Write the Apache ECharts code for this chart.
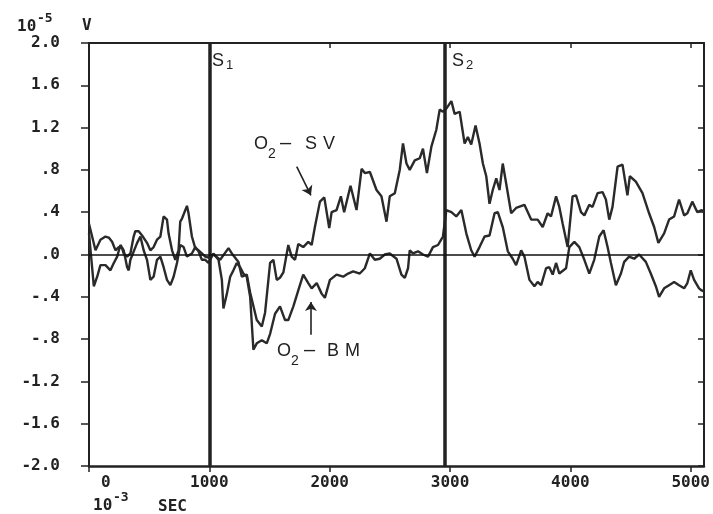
<!DOCTYPE html>
<html>
<head>
<meta charset="utf-8">
<script src="https://cdn.jsdelivr.net/npm/echarts@6/dist/echarts.min.js"></script>
<style>html,body{margin:0;padding:0;background:#fff}#c{width:713px;height:514px}</style>
</head>
<body>
<div id="c"></div>
<script>
// time in 10^-3 s, value in 10^-5 V
const xTicks = [0, 1000, 2000, 3000, 4000, 5000];
const xTickLabels = ['0', '1000', '2000', '3000', '4000', '5000'];
const yTicks = [-2.0, -1.6, -1.2, -0.8, -0.4, 0.0, 0.4, 0.8, 1.2, 1.6, 2.0];
const yTickLabels = ['-2.0', '-1.6', '-1.2', '-.8', '-.4', '.0', '.4', '.8', '1.2', '1.6', '2.0'];
const stimulusTimes = [1000, 2960];

const svTrace = [[0,0.29],[54,0.04],[95,0.14],[137,0.17],[164,0.16],[192,0.12],[220,0.04],[247,0.07],[275,0.06],[288,0.01],[317,-0.02],[344,0.01],[371,0.17],[385,0.22],[413,0.22],[441,0.18],[482,0.11],[510,0.04],[537,0.07],[565,0.14],[593,0.17],[620,0.36],[648,0.33],[661,0.20],[690,0.04],[717,-0.05],[744,0.04],[758,0.31],[773,0.34],[786,0.33],[814,0.46],[827,0.39],[855,0.17],[883,0.06],[910,0.04],[938,0.01],[966,-0.02],
[993,-0.03],[1034,0.00],[1090,-0.05],[1159,0.06],[1187,0.01],[1242,-0.07],[1270,-0.21],[1311,-0.19],[1339,-0.36],[1394,-0.62],[1436,-0.68],[1463,-0.55],[1505,-0.08],[1532,-0.05],[1560,-0.24],[1587,-0.22],[1615,-0.17],[1656,0.09],[1684,-0.02],[1712,-0.05],[1739,0.10],[1780,0.07],[1822,0.12],[1850,0.09],[1877,0.26],[1919,0.50],[1955,0.54],[1996,0.25],[2016,0.40],[2057,0.42],[2093,0.55],[2120,0.40],[2173,0.65],[2223,0.42],[2265,0.81],[2292,0.77],[2334,0.78],[2389,0.61],[2430,0.55],[2472,0.31],[2499,0.55],[2541,0.58],[2582,0.80],[2609,1.05],[2638,0.86],[2665,0.80],[2707,0.89],[2748,0.91],[2775,1.00],[2808,0.77],[2845,1.02],[2886,1.18],[2914,1.37],[2941,1.35],[2969,1.38],[3011,1.45],[3038,1.33],[3080,1.35],[3121,1.05],[3148,1.11],[3176,1.04],[3212,1.22],[3245,1.05],[3273,0.86],[3301,0.74],[3328,0.48],[3355,0.61],[3384,0.72],[3411,0.61],[3438,0.86],[3471,0.64],[3508,0.39],[3549,0.44],[3618,0.47],[3674,0.33],[3728,0.33],[3770,0.26],[3811,0.39],[3839,0.36],[3881,0.55],[3908,0.45],[3936,0.29],[3977,0.07],[4018,0.55],[4047,0.56],[4088,0.40],[4116,0.37],[4157,0.47],[4184,0.45],[4226,0.58],[4267,0.59],[4295,0.52],[4323,0.33],[4350,0.45],[4392,0.83],[4433,0.85],[4474,0.56],[4494,0.74],[4544,0.69],[4599,0.58],[4654,0.39],[4696,0.26],[4731,0.11],[4779,0.20],[4820,0.33],[4862,0.36],[4903,0.52],[4945,0.37],[4972,0.39],[5013,0.50],[5055,0.40],[5091,0.42],[5110,0.40]];

const bmTrace = [[0,0.20],[40,-0.30],[68,-0.21],[95,-0.10],[137,-0.10],[178,-0.15],[206,-0.08],[234,-0.02],[261,0.09],[288,0.04],[317,-0.12],[330,-0.15],[344,-0.05],[400,0.11],[427,0.17],[454,0.04],[482,-0.05],[510,-0.24],[537,-0.21],[565,-0.05],[593,-0.02],[620,-0.12],[648,-0.24],[676,-0.29],[703,-0.21],[731,-0.08],[758,0.09],[786,0.07],[814,-0.02],[855,0.01],[883,0.07],[910,0.03],[938,-0.05],[966,-0.05],
[993,-0.08],[1034,0.01],[1076,-0.05],[1104,-0.24],[1117,-0.51],[1146,-0.37],[1173,-0.21],[1200,-0.15],[1228,-0.08],[1256,-0.12],[1283,-0.18],[1311,-0.21],[1339,-0.40],[1366,-0.90],[1394,-0.84],[1436,-0.81],[1477,-0.84],[1505,-0.75],[1546,-0.56],[1587,-0.49],[1629,-0.62],[1656,-0.62],[1698,-0.49],[1739,-0.34],[1780,-0.19],[1822,-0.27],[1850,-0.32],[1892,-0.27],[1933,-0.37],[1960,-0.41],[2002,-0.24],[2057,-0.19],[2112,-0.21],[2153,-0.18],[2195,-0.16],[2250,-0.18],[2292,-0.13],[2334,0.01],[2375,-0.05],[2416,-0.04],[2458,0.00],[2499,0.01],[2555,-0.04],[2596,-0.19],[2624,-0.22],[2651,-0.13],[2665,0.04],[2692,0.01],[2734,0.03],[2775,0.00],[2817,-0.02],[2858,0.07],[2900,0.09],[2941,0.17],[2969,0.42],[3011,0.40],[3052,0.36],[3094,0.42],[3135,0.20],[3176,0.04],[3204,-0.02],[3245,0.07],[3287,0.17],[3328,0.18],[3370,0.39],[3397,0.40],[3438,0.26],[3480,0.03],[3521,-0.04],[3549,-0.10],[3591,0.04],[3618,-0.02],[3660,-0.24],[3701,-0.30],[3728,-0.26],[3757,-0.29],[3798,-0.13],[3825,-0.12],[3853,-0.19],[3881,-0.08],[3908,-0.18],[3964,-0.13],[3991,0.07],[4033,0.12],[4074,0.07],[4116,-0.05],[4157,-0.18],[4198,-0.05],[4240,0.17],[4276,0.23],[4309,0.07],[4337,-0.08],[4378,-0.29],[4420,-0.18],[4447,-0.07],[4488,-0.02],[4530,-0.04],[4571,0.00],[4627,-0.07],[4668,-0.18],[4710,-0.30],[4737,-0.40],[4779,-0.32],[4820,-0.29],[4862,-0.26],[4903,-0.29],[4945,-0.32],[4972,-0.27],[5000,-0.15],[5028,-0.24],[5069,-0.32],[5091,-0.34],[5110,-0.35]];

// annotation arrows (data coordinates): [from, to]
const svArrow = [[1726, 0.83], [1844, 0.56]];
const bmArrow = [[1844, -0.76], [1844, -0.45]];

const INK = '#222';
const MONO = 'DejaVu Sans Mono';
const SANS = 'Liberation Sans';

// the "0" label sits to the right of its tick in the original, drawn separately
function xLabel(v) {
  const i = xTicks.indexOf(Math.round(v));
  if (i <= 0) return '';
  return xTickLabels[i];
}
function yLabel(v) {
  const i = Math.round((v - yTicks[0]) / 0.4);
  if (Math.abs(yTicks[0] + i * 0.4 - v) > 1e-6) return '';
  return yTickLabels[i] || '';
}

const chart = echarts.init(document.getElementById('c'), null, {renderer: 'canvas'});

const txt = (x, y, text, size, font, weight) => ({
  type: 'text', left: x, top: y,
  style: {text: text, fill: INK, font: (weight || 'normal') + ' ' + size + 'px "' + font + '"'}
});

chart.setOption({
  animation: false,
  backgroundColor: '#fff',
  grid: {left: 89, right: 8, top: 43, bottom: 48, containLabel: false},
  xAxis: [{
    type: 'value', position: 'bottom', min: 0, max: 5110, interval: 1000,
    axisLine: {onZero: false, lineStyle: {color: INK, width: 2.5}},
    axisTick: {show: true, inside: false, length: 6, lineStyle: {color: INK, width: 1.5}},
    splitLine: {show: false},
    axisLabel: {
      margin: 9, color: INK, fontFamily: MONO, fontWeight: 'bold', fontSize: 16,
      showMaxLabel: false, formatter: xLabel
    }
  }, {
    type: 'value', position: 'top', min: 0, max: 5110, interval: 1000,
    axisLine: {onZero: false, lineStyle: {color: INK, width: 2}},
    axisTick: {show: true, inside: true, length: 5, lineStyle: {color: INK, width: 1.5}},
    axisLabel: {show: false}, splitLine: {show: false}
  }],
  yAxis: [{
    type: 'value', position: 'left', min: -2, max: 2, interval: 0.4,
    axisLine: {onZero: false, lineStyle: {color: INK, width: 2}},
    axisTick: {show: true, inside: false, length: 8, lineStyle: {color: INK, width: 1.5}},
    splitLine: {show: false},
    axisLabel: {margin: 29, color: INK, fontFamily: MONO, fontWeight: 'bold', fontSize: 16,
      showMinLabel: true, showMaxLabel: true,
      padding: [6, 0, 0, 0], formatter: yLabel}
  }, {
    type: 'value', position: 'right', min: -2, max: 2, interval: 0.4,
    axisLine: {onZero: false, lineStyle: {color: INK, width: 2}},
    axisTick: {show: true, inside: true, length: 6, lineStyle: {color: INK, width: 1.5}},
    axisLabel: {show: false}, splitLine: {show: false}
  }],
  series: [{
    name: 'O2-SV', type: 'line', data: svTrace, showSymbol: false, smooth: false,
    lineStyle: {color: '#2a2a2a', width: 2.4}, z: 3,
    markLine: {
      silent: true, symbol: 'none', label: {show: false},
      data: stimulusTimes.map(t => ({xAxis: t, lineStyle: {color: INK, width: 3.5, type: 'solid'}}))
        .concat([{yAxis: 0, lineStyle: {color: '#111', width: 1.5, type: 'solid'}}])
    }
  }, {
    name: 'O2-BM', type: 'line', data: bmTrace, showSymbol: false, smooth: false,
    lineStyle: {color: '#2a2a2a', width: 2.4}, z: 3,
    markLine: {
      silent: true, symbol: ['none', 'arrow'], symbolSize: 9, label: {show: false},
      lineStyle: {color: INK, width: 1.6, type: 'solid'},
      data: [
        [{coord: svArrow[0]}, {coord: svArrow[1]}],
        [{coord: bmArrow[0]}, {coord: bmArrow[1]}]
      ]
    }
  }],
  graphic: [
    txt(101, 475, xTickLabels[0], 16, MONO, 'bold'),
    txt(17, 19, '10', 16, MONO, 'bold'),
    txt(37, 12, '-5', 13, MONO, 'bold'),
    txt(82, 18, 'V', 16, MONO, 'bold'),
    txt(93, 498, '10', 16, MONO, 'bold'),
    txt(113, 491, '-3', 13, MONO, 'bold'),
    txt(158, 499, 'SEC', 16, MONO, 'bold'),
    txt(212, 52, 'S', 18, SANS),
    txt(226, 59, '1', 13, SANS),
    txt(452, 52, 'S', 18, SANS),
    txt(466, 59, '2', 13, SANS),
    txt(254, 135, 'O', 18, SANS),
    txt(268, 147, '2', 14, SANS),
    txt(280, 133, '\u2013', 20, SANS),
    txt(305, 135, 'S', 18, SANS),
    txt(323, 135, 'V', 18, SANS),
    txt(277, 342, 'O', 18, SANS),
    txt(291, 354, '2', 14, SANS),
    txt(304, 340, '\u2013', 20, SANS),
    txt(327, 342, 'B', 18, SANS),
    txt(345, 342, 'M', 18, SANS)
  ]
});
</script>
</body>
</html>
